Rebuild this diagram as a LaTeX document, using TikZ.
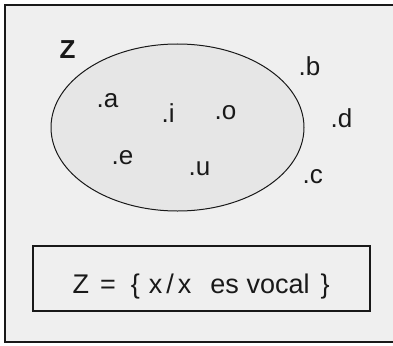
\documentclass[tikz,border=0pt]{standalone}
\usepackage{fontspec}
\setmainfont{Liberation Sans}
\definecolor{panel}{RGB}{239,239,239}
\definecolor{setfill}{RGB}{230,230,230}
\definecolor{ink}{RGB}{25,25,25}
\tikzset{
    elem/.style={anchor=base west, inner sep=0pt, text=ink, font=\fontsize{26}{30}\selectfont},
    setname/.style={anchor=base west, inner sep=0pt, text=ink, font=\fontsize{26}{30}\selectfont\bfseries},
    rule/.style={draw=ink, line width=2pt, fill=panel, inner sep=0pt}
}

\begin{document}
\begin{tikzpicture}[x=1pt, y=-1pt]
    \useasboundingbox (0,0) rectangle (393,345);
    % frame
    \draw[ink, line width=2pt, fill=panel] (5,5) rectangle (402,342);

    % set
    \draw[ink, line width=1pt, fill=setfill] (177.5,127.5) ellipse [x radius=126.5, y radius=83.5];
    \node[setname] (z) at (59.5,59) {Z};

    % elements
    \node[elem] (a) at (96.5,107) {.a};
    \node[elem] (i) at (161.5,122) {.i};
    \node[elem] (o) at (214.5,119) {.o};
    \node[elem] (e) at (111.5,164) {.e};
    \node[elem] (u) at (188.5,175) {.u};
    \node[elem] (b) at (298.5,75) {.b};
    \node[elem] (d) at (330.5,127) {.d};
    \node[elem] (c) at (302.5,183) {.c};

    % definition
    \node[rule, minimum width=337pt, minimum height=65pt] (def) at (201.5,278.5) {};
    \node[anchor=base west, inner sep=0pt, text=ink, font=\fontsize{27}{30}\selectfont] (deftext) at (72.5,293)
        {Z\hspace{11pt}=\hspace{15pt}\{\hspace{9pt}x\hspace{4pt}/\hspace{4pt}x\hspace{19pt}es vocal\hspace{11pt}\}};
\end{tikzpicture}
\end{document}
